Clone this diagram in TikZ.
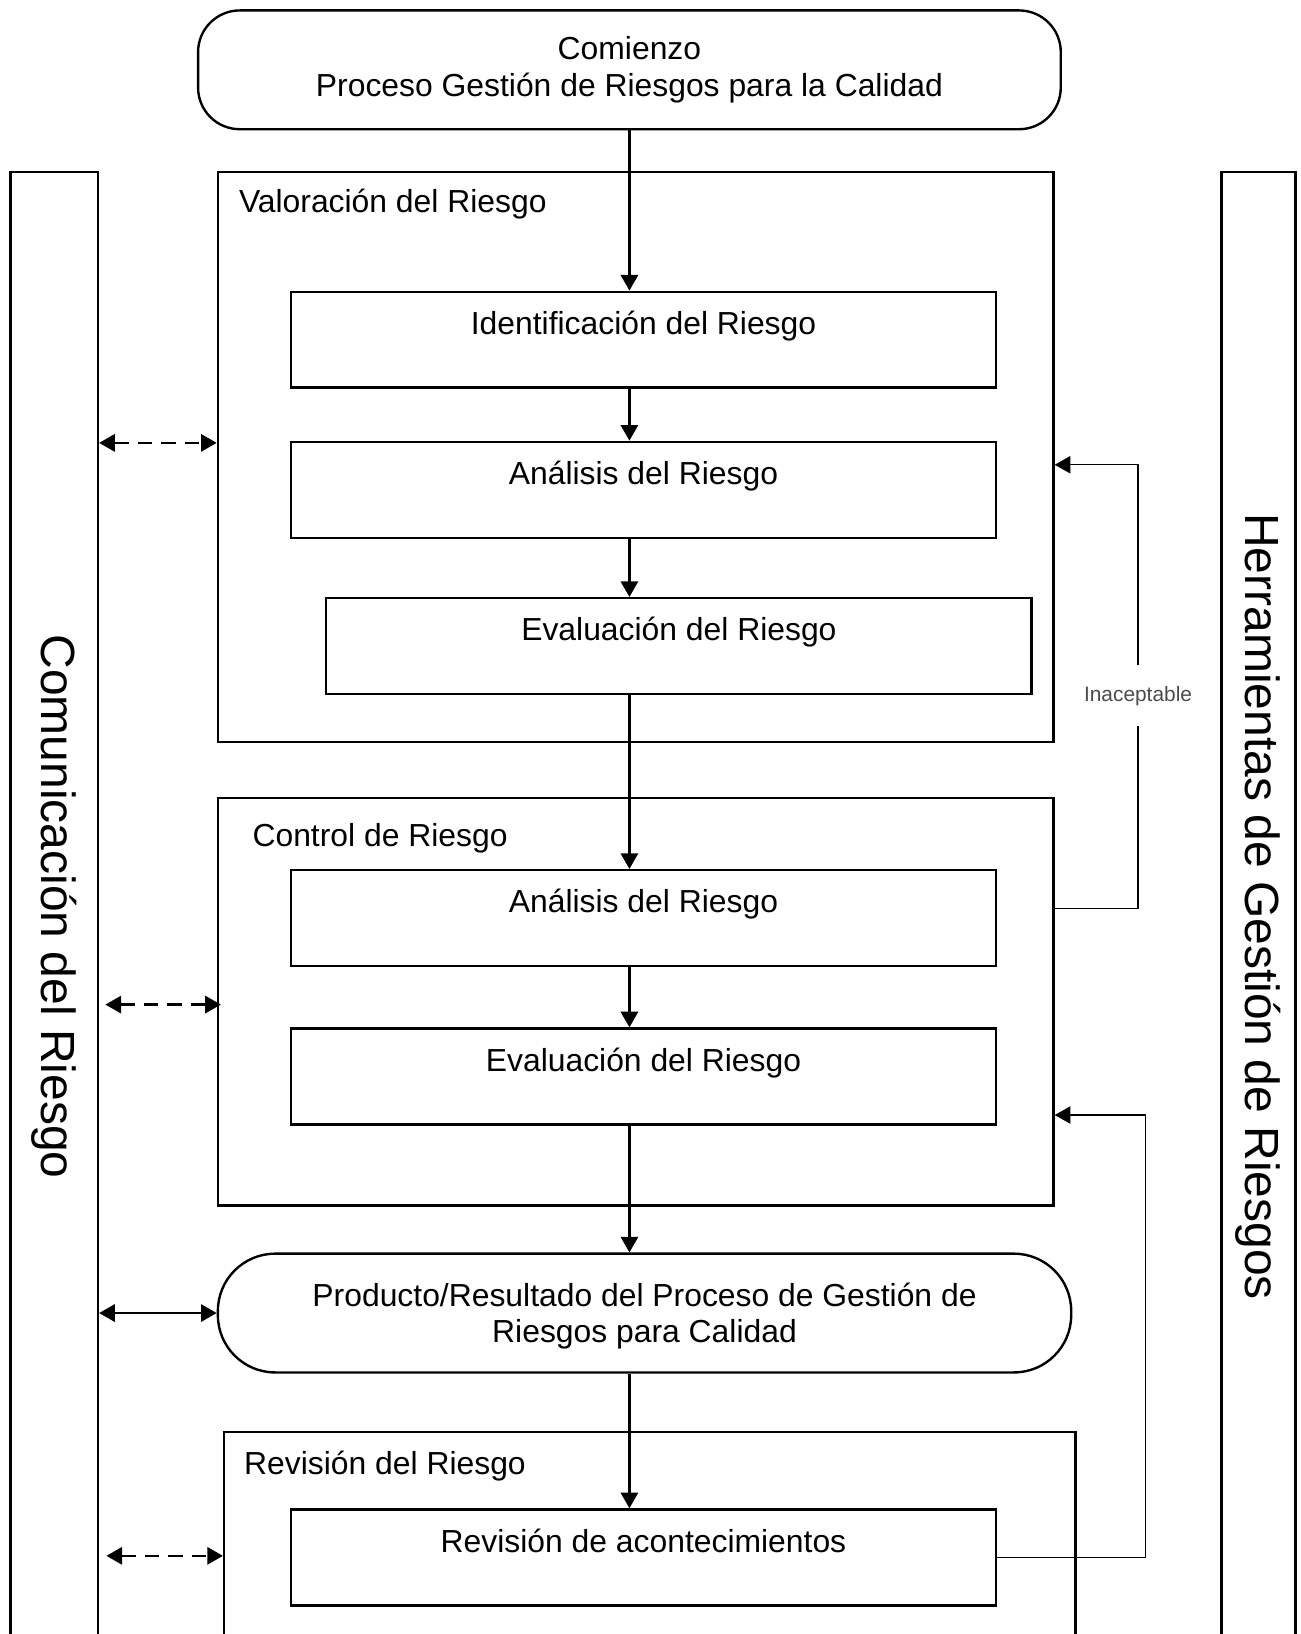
\documentclass[tikz,border=0pt]{standalone}
\usepackage{fontspec}
\setmainfont{Liberation Sans}
\usetikzlibrary{arrows.meta}

\tikzstyle{box} = [draw,line width=1.3pt,minimum width=13.54cm,minimum height=1.84cm,text height=0.44cm,text depth=0.64cm,inner sep=0pt]
\tikzstyle{frame} = [draw,line width=1.3pt,minimum width=16.04cm,inner sep=0pt]
\tikzstyle{terminal} = [draw,line width=1.3pt,align=center,minimum height=2.28cm,inner sep=0pt]
\tikzstyle{column} = [draw,line width=1.3pt,minimum height=28.2cm,inner sep=0pt]
\tikzstyle{title} = [anchor=west,inner sep=0pt]
\tikzstyle{flow} = [draw,line width=1.3pt,->]
\tikzstyle{talk} = [draw,line width=1.3pt,dash pattern=on 0.28cm off 0.17cm,<->]
\tikzstyle{loop} = [draw,line width=0.7pt,->]
\newcommand{\bigfont}{\fontsize{26.2}{30}\selectfont}

\begin{document}
\begin{tikzpicture}[x=0.02cm, y=-0.02cm, font=\fontsize{17.4}{19.9}\selectfont,
    >={Triangle[length=0.3cm,width=0.33cm]}]
    \useasboundingbox (0,0) rectangle (1248,1568);
    \clip (0,0) rectangle (1248,1568);
    % First the two side columns
    \node[column, minimum width=1.68cm] (comm) at (52,870) {};
    \node[column, minimum width=1.42cm] (tools) at (1207.5,870) {};
    \node[rotate=-90, font=\bigfont] (commtxt) at (comm) {Comunicación del Riesgo};
    \node[rotate=-90, font=\bigfont] (toolstxt) at (tools) {Herramientas de Gestión de Riesgos};
    % Start and result
    \node[terminal, rounded corners=0.8cm, minimum width=16.56cm] (start) at (604,67) {Comienzo\\Proceso Gestión de Riesgos para la Calidad};
    \node[terminal, rounded corners=1.1cm, minimum width=16.38cm, text depth=0pt] (prod) at (618.5,1260) {Producto/Resultado del Proceso de Gestión de\\Riesgos para Calidad};
    % The stage frames
    \node[frame, minimum height=10.94cm] (valor) at (610,438.5) {};
    \node[frame, minimum height=7.82cm] (control) at (610,961.5) {};
    \node[frame, minimum width=16.34cm, minimum height=5.32cm] (revision) at (623.5,1507) {};
    \node[title] (valortxt) at (229,196) {Valoración del Riesgo};
    \node[title] (controltxt) at (242,804) {Control de Riesgo};
    \node[title] (revisiontxt) at (234,1407) {Revisión del Riesgo};
    % Then the steps inside them
    \foreach \pos/\name/\txt in {{(617.5,326)/ident/Identificación del Riesgo}, {(617.5,470)/anal1/Análisis del Riesgo},
        {(651.5,620)/eval1/Evaluación del Riesgo}, {(617.5,881)/anal2/Análisis del Riesgo},
        {(617.5,1033)/eval2/Evaluación del Riesgo}, {(617.5,1494.5)/revac/Revisión de acontecimientos}}
        \node[box] (\name) at \pos {\txt};
    % Main flow down the middle
    \draw[flow] (start.south) -- (start.south |- ident.north);
    \foreach \source/\dest in {ident/anal1, anal1/eval1, eval1/anal2, anal2/eval2, eval2/prod, prod/revac}
        \draw[flow] (start.south |- \source.south) -- (start.south |- \dest.north);
    % Communication arrows
    \draw[talk] (comm.east |- 0,425) -- (valor.west |- 0,425);
    \draw[talk, shorten <=0.12cm, shorten >=-0.08cm] (comm.east |- 0,964) -- (control.west |- 0,964);
    \draw[flow, <->] (comm.east |- prod.west) -- (prod.west);
    \draw[talk, shorten <=0.14cm] (comm.east |- 0,1493) -- (revision.west |- 0,1493);
    % Feedback loops
    \draw[loop] (control.east |- 0,872) -- ++(80,0) |- node[pos=0.24, fill=white, text=black!70, inner xsep=1pt, inner ysep=0.4cm, font=\fontsize{11.4}{13}\selectfont] {Inaceptable} (valor.east |- 0,446);
    \draw[loop] (revac.east) -- ++(142,0) |- (control.east |- 0,1070);
\end{tikzpicture}
\end{document}
